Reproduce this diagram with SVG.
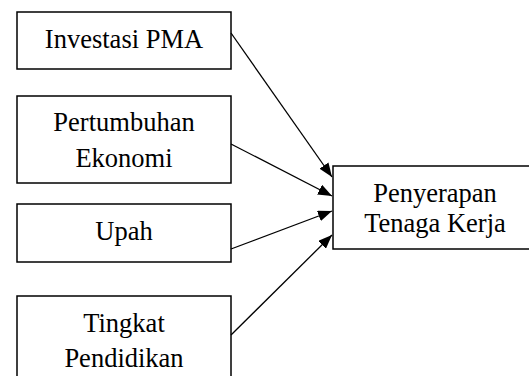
<svg xmlns="http://www.w3.org/2000/svg" width="529" height="376" viewBox="0 0 529 376">
<style>
.box{fill:#fff;stroke:#000;stroke-width:1.5}
.t{font-family:'Liberation Serif','Times New Roman',Times,serif;font-size:26.5px;fill:#000;text-anchor:middle}
.c{stroke:#000;stroke-width:1.3;fill:none;marker-end:url(#ah)}
</style>
<defs>
<marker id="ah" viewBox="0 0 14 11" refX="14" refY="5.5" markerWidth="14" markerHeight="11" markerUnits="userSpaceOnUse" orient="auto">
<path d="M0,0 L14,5.5 L0,11 Z" fill="#000"/>
</marker>
</defs>
<rect width="529" height="376" fill="#fff"/>
<g id="n1"><rect class="box" x="17" y="12" width="214" height="57"/><text class="t" x="124" y="48">Investasi PMA</text></g>
<g id="n2"><rect class="box" x="17" y="96" width="214" height="87"/><text class="t" x="124" y="131">Pertumbuhan</text><text class="t" x="124" y="167">Ekonomi</text></g>
<g id="n3"><rect class="box" x="17" y="204" width="214" height="58"/><text class="t" x="124" y="240">Upah</text></g>
<g id="n4"><rect class="box" x="17" y="296" width="214" height="90"/><text class="t" x="124" y="332">Tingkat</text><text class="t" x="124" y="367">Pendidikan</text></g>
<g id="n5"><rect class="box" x="333" y="166" width="200" height="83"/><text class="t" x="435" y="202">Penyerapan</text><text class="t" x="435" y="232">Tenaga Kerja</text></g>
<g id="connectors">
<line class="c" x1="231" y1="33" x2="332" y2="177"/>
<line class="c" x1="231" y1="144" x2="332" y2="196"/>
<line class="c" x1="231" y1="249" x2="332" y2="211"/>
<line class="c" x1="231" y1="335" x2="332" y2="235"/>
</g>
</svg>
